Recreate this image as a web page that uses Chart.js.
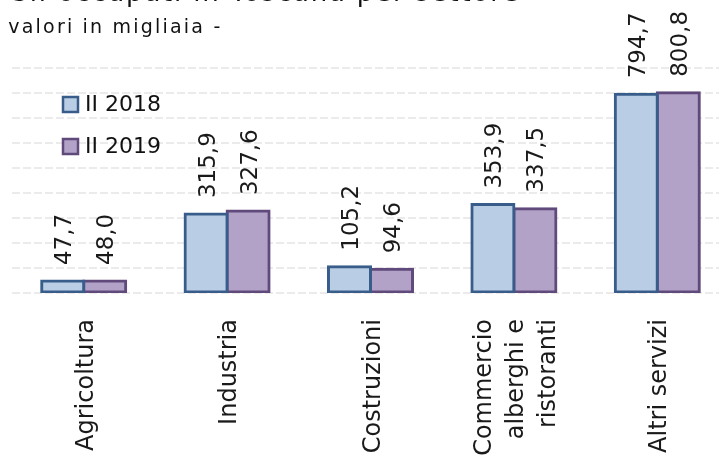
<!DOCTYPE html>
<html lang="it">
<head>
<meta charset="utf-8">
<title>Occupati in Toscana per settore</title>
<script src="https://cdn.jsdelivr.net/npm/chart.js@4.4.1/dist/chart.umd.min.js"></script>
<style>
  html, body { margin: 0; padding: 0; background: #fff; overflow: hidden; width: 719px; height: 468px; }
  #wrap { position: relative; width: 719px; height: 468px; overflow: hidden; }
  #chart { position: absolute; left: 0; top: 0; }
  .title { position: absolute; right: 199px; top: -21px; font: 26px/1 "DejaVu Sans", sans-serif; letter-spacing: 1.8px; color: #111; white-space: nowrap; }
  .subtitle { position: absolute; left: -9px; top: 17px; font: 19px/1 "DejaVu Sans", sans-serif; letter-spacing: 2.2px; color: #111; white-space: nowrap; }
</style>
</head>
<body>
<div id="wrap">
  <canvas id="chart" width="740" height="468"></canvas>
  <div class="title">Gli occupati in Toscana per settore</div>
  <div class="subtitle">- valori in migliaia -</div>
</div>
<script>
// --- Data (migliaia) ---
const categories = ['Agricoltura', 'Industria', 'Costruzioni', ['Commercio', 'alberghi e', 'ristoranti'], 'Altri servizi'];
const seriesNames = ['II 2018', 'II 2019'];
const values2018 = [47.7, 315.9, 105.2, 353.9, 794.7];
const values2019 = [48.0, 327.6, 94.6, 337.5, 800.8];
const yTicks = [0, 100, 200, 300, 400, 500, 600, 700, 800, 900];

const fillColors = ['#B9CDE5', '#B3A2C7'];
const lineColors = ['#385D8A', '#5F4A7B'];
const FONT = '"DejaVu Sans", sans-serif';

const fmt = v => v.toFixed(1).replace('.', ',');

// value labels, rotated above each bar
const valueLabels = {
  id: 'valueLabels',
  afterDatasetsDraw(chart) {
    const ctx = chart.ctx;
    ctx.save();
    ctx.font = '23px ' + FONT;
    ctx.fillStyle = '#1a1a1a';
    ctx.textAlign = 'left';
    ctx.textBaseline = 'alphabetic';
    chart.data.datasets.forEach((ds, i) => {
      chart.getDatasetMeta(i).data.forEach((bar, j) => {
        ctx.save();
        ctx.translate(bar.x + 8.5, bar.y - 16);
        ctx.rotate(-Math.PI / 2);
        ctx.fillText(fmt(ds.data[j]), 0, 0);
        ctx.restore();
      });
    });
    ctx.restore();
  }
};

// category labels, rotated, multi-line groups centred on the tick
const categoryLabels = {
  id: 'categoryLabels',
  afterDraw(chart) {
    const ctx = chart.ctx;
    const xs = chart.scales.x;
    const top = chart.chartArea.bottom + 26;
    const lh = 32;
    ctx.save();
    ctx.font = '24px ' + FONT;
    ctx.fillStyle = '#1a1a1a';
    ctx.textAlign = 'right';
    ctx.textBaseline = 'alphabetic';
    categories.forEach((lab, i) => {
      const lines = Array.isArray(lab) ? lab : [lab];
      const cx = xs.getPixelForValue(i);
      lines.forEach((line, k) => {
        const x = cx + (k - (lines.length - 1) / 2) * lh;
        ctx.save();
        ctx.translate(x + 9, top);
        ctx.rotate(-Math.PI / 2);
        ctx.fillText(line, 0, 0);
        ctx.restore();
      });
    });
    ctx.restore();
  }
};

// legend inside the plot, top-left
const insideLegend = {
  id: 'insideLegend',
  afterDatasetsDraw(chart) {
    const ctx = chart.ctx;
    ctx.save();
    ctx.font = '22px ' + FONT;
    ctx.textAlign = 'left';
    ctx.textBaseline = 'middle';
    chart.data.datasets.forEach((ds, i) => {
      const cy = 104.5 + i * 42;
      ctx.fillStyle = ds.backgroundColor;
      ctx.fillRect(63, cy - 7.5, 15, 15);
      ctx.lineWidth = 2.5;
      ctx.strokeStyle = ds.borderColor;
      ctx.strokeRect(63, cy - 7.5, 15, 15);
      ctx.fillStyle = '#111';
      ctx.fillText(ds.label, 85, cy + 1);
    });
    ctx.restore();
  }
};

new Chart(document.getElementById('chart'), {
  type: 'bar',
  data: {
    labels: categories,
    datasets: [
      {
        label: seriesNames[0],
        data: values2018,
        backgroundColor: fillColors[0],
        borderColor: lineColors[0],
        borderWidth: 3,
        borderSkipped: false,
        inflateAmount: 1.5
      },
      {
        label: seriesNames[1],
        data: values2019,
        backgroundColor: fillColors[1],
        borderColor: lineColors[1],
        borderWidth: 3,
        borderSkipped: false,
        inflateAmount: 1.5
      }
    ]
  },
  options: {
    responsive: false,
    devicePixelRatio: 1,
    animation: false,
    categoryPercentage: 0.586,
    barPercentage: 1.0,
    layout: { padding: { left: 12, right: 11, top: 68, bottom: 0 } },
    plugins: {
      legend: { display: false },
      tooltip: { enabled: false }
    },
    scales: {
      x: {
        grid: { display: false, drawTicks: false },
        border: { display: false },
        ticks: { display: false },
        afterFit: (scale) => { scale.height = 175; }
      },
      y: {
        min: yTicks[0],
        max: yTicks[yTicks.length - 1],
        afterBuildTicks: (scale) => { scale.ticks = yTicks.map(v => ({ value: v })); },
        ticks: { display: false },
        grid: { color: '#EBEBEB', lineWidth: 2, drawTicks: false },
        border: { display: false, dash: [8, 3] },
        afterFit: (scale) => { scale.width = 0; }
      }
    }
  },
  plugins: [valueLabels, categoryLabels, insideLegend]
});
</script>
</body>
</html>
